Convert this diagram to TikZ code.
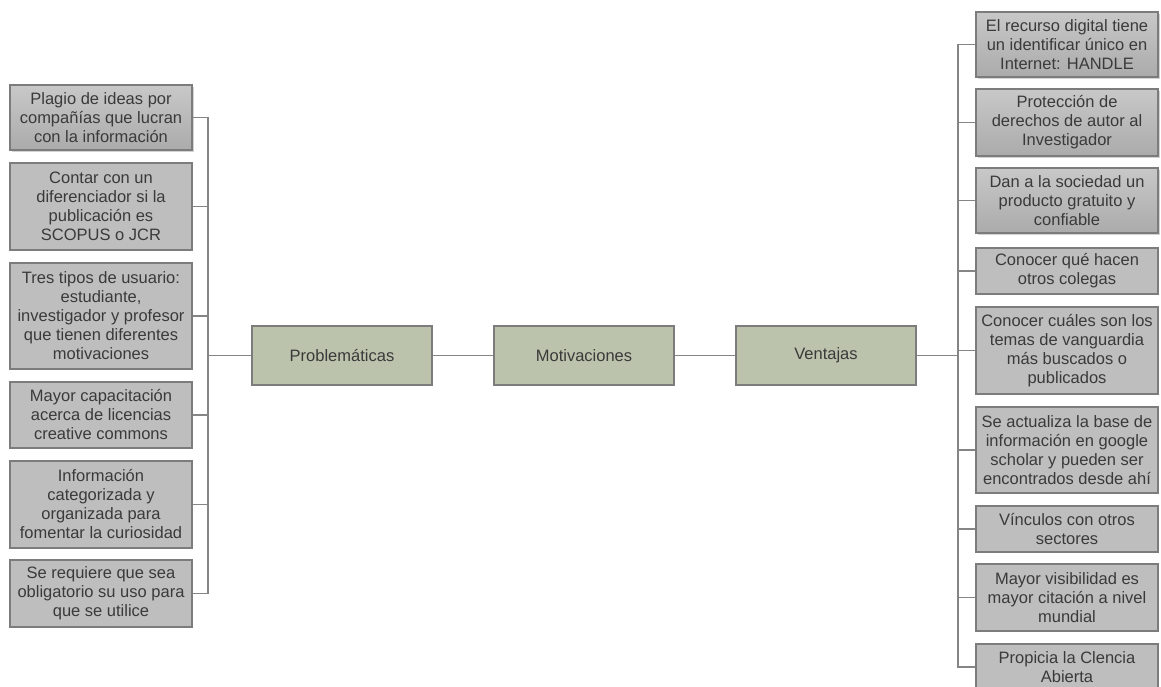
\documentclass[tikz,border=0pt]{standalone}
\usepackage{fontspec}
\setmainfont{Liberation Sans}
\usepackage{xcolor}
\usepackage{tikz}
\usetikzlibrary{shadows}

\definecolor{hubfill}{HTML}{BCC3AC}
\definecolor{itemfill}{HTML}{BEBEBE}
\definecolor{itemtop}{HTML}{C8C8C8}
\definecolor{itembot}{HTML}{ABABAB}
\definecolor{edgegray}{HTML}{7C7C7C}
\definecolor{linkgray}{HTML}{858585}
\definecolor{inkgray}{HTML}{3A3A3A}

\begin{document}
\begin{tikzpicture}[
    x=1pt, y=-1pt,
    hub/.style={rectangle, draw=edgegray, line width=1.1pt, fill=hubfill, minimum width=180pt, minimum height=59pt, align=center, text=inkgray, font=\fontsize{16.5}{19}\selectfont},
    item/.style={rectangle, draw=edgegray, line width=1.1pt, fill=itemfill, minimum width=182pt, inner xsep=2pt, align=center, text=inkgray, font=\fontsize{16.5}{19}\selectfont},
    itemkey/.style={item, top color=itemtop, bottom color=itembot, drop shadow={opacity=0.35, shadow xshift=2pt, shadow yshift=-2pt}},
    link/.style={draw=linkgray, line width=1.4pt},
  ]
  \useasboundingbox (0,0) rectangle (1161,687);

  % Central chain
  \node[hub] (prob) at (342,355.5) {Problemáticas};
  \node[hub] (moti) at (584,355.5) {Motivaciones};
  \node[hub] (vent) at (826,355.5) {Ventajas};

  % Bus points
  \coordinate (lbus) at (208,355.5);
  \coordinate (rbus) at (958,355.5);

  % Problems (left column)
  \node[itemkey, minimum height=65pt] (pl1) at (101,117.5) {Plagio de ideas por\\compañías que lucran\\con la información};
  \node[item, minimum height=87pt] (pl2) at (101,206.5) {Contar con un\\diferenciador si la\\publicación es\\SCOPUS o JCR};
  \node[item, minimum height=106pt] (pl3) at (101,316) {Tres tipos de usuario:\\estudiante,\\investigador y profesor\\que tienen diferentes\\motivaciones};
  \node[item, minimum height=66pt] (pl4) at (101,415) {Mayor capacitación\\acerca de licencias\\creative commons};
  \node[item, minimum height=87pt] (pl5) at (101,504.5) {Información\\categorizada y\\organizada para\\fomentar la curiosidad};
  \node[item, minimum height=67pt] (pl6) at (101,593.5) {Se requiere que sea\\obligatorio su uso para\\que se utilice};

  % Advantages (right column)
  \node[itemkey, minimum height=65pt] (vt1) at (1067,44.5) {El recurso digital tiene\\un identificar único en\\Internet: HANDLE};
  \node[itemkey, minimum height=67pt] (vt2) at (1067,122.5) {Protección de\\derechos de autor al\\Investigador};
  \node[itemkey, minimum height=65pt] (vt3) at (1067,200.5) {Dan a la sociedad un\\producto gratuito y\\confiable};
  \node[item, minimum height=46pt] (vt4) at (1067,271) {Conocer qué hacen\\otros colegas};
  \node[item, minimum height=87pt] (vt5) at (1067,350.5) {Conocer cuáles son los\\temas de vanguardia\\más buscados o\\publicados};
  \node[item, minimum height=86pt] (vt6) at (1067,450) {Se actualiza la base de\\información en google\\scholar y pueden ser\\encontrados desde ahí};
  \node[item, minimum height=46pt] (vt7) at (1067,529) {Vínculos con otros\\sectores};
  \node[item, minimum height=67pt] (vt8) at (1067,597.5) {Mayor visibilidad es\\mayor citación a nivel\\mundial};
  \node[item, minimum height=46pt] (vt9) at (1067,667) {Propicia la Clencia\\Abierta};

  % Connectors
  \draw[link] (prob) -- (moti);
  \draw[link] (moti) -- (vent);
  \draw[link] (prob) -- (lbus);
  \draw[link] (vent) -- (rbus);
  \draw[link] (pl1.east) -| (lbus);
  \draw[link] (pl2.east) -| (lbus);
  \draw[link] (pl3.east) -| (lbus);
  \draw[link] (pl4.east) -| (lbus);
  \draw[link] (pl5.east) -| (lbus);
  \draw[link] (pl6.east) -| (lbus);
  \draw[link] (rbus) |- (vt1.west);
  \draw[link] (rbus) |- (vt2.west);
  \draw[link] (rbus) |- (vt3.west);
  \draw[link] (rbus) |- (vt4.west);
  \draw[link] (rbus) |- (vt5.west);
  \draw[link] (rbus) |- (vt6.west);
  \draw[link] (rbus) |- (vt7.west);
  \draw[link] (rbus) |- (vt8.west);
  \draw[link] (rbus) |- (vt9.west);

\end{tikzpicture}
\end{document}
